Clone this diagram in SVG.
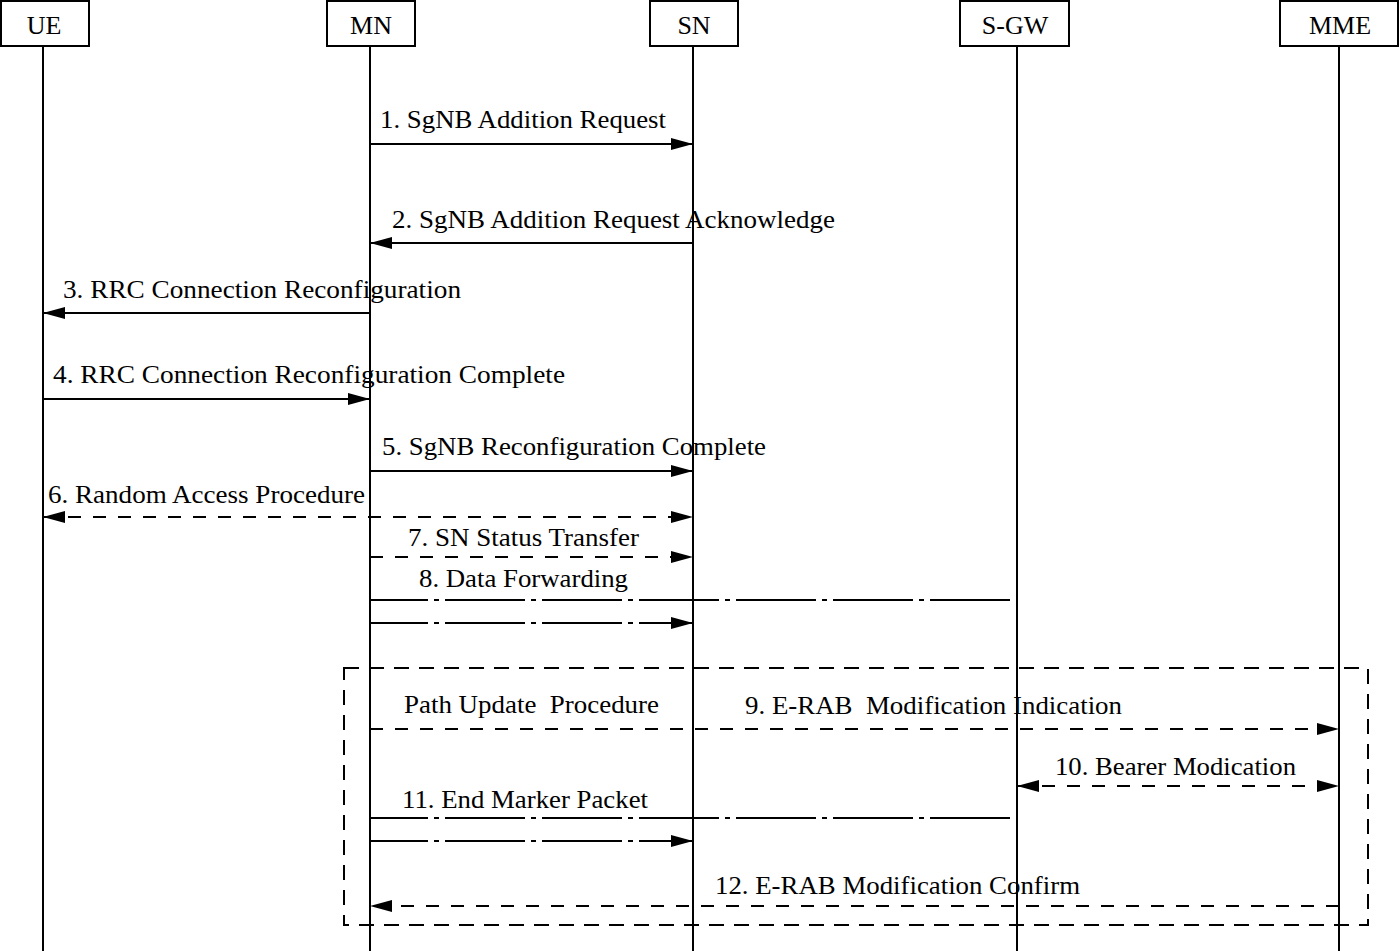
<svg xmlns="http://www.w3.org/2000/svg" width="1400" height="951" viewBox="0 0 1400 951">
<style>
.box{fill:#fff;stroke:#000;stroke-width:2}
.life{stroke:#000;stroke-width:2;fill:none}
.msg{stroke:#000;stroke-width:2;fill:none}
.dash{stroke-dasharray:13 12}
.dd{stroke-dasharray:80 6 5 6}
.frame{fill:none;stroke:#000;stroke-width:2;stroke-dasharray:15 10}
text{font-family:"Liberation Serif","Times New Roman",serif;font-size:26px;fill:#000}
.hdr{text-anchor:middle}
</style>
<defs>
<marker id="ah" markerUnits="userSpaceOnUse" markerWidth="22" markerHeight="12" refX="22" refY="6" orient="auto-start-reverse" viewBox="0 0 22 12">
<path d="M0,0 L22,6 L0,12 z" fill="#000"/>
</marker>
</defs>
<g id="lifelines">
<line class="life" x1="43" y1="46" x2="43" y2="951"/>
<line class="life" x1="370" y1="46" x2="370" y2="951"/>
<line class="life" x1="693" y1="46" x2="693" y2="951"/>
<line class="life" x1="1017" y1="46" x2="1017" y2="951"/>
<line class="life" x1="1339" y1="46" x2="1339" y2="951"/>
</g>
<g id="node-UE"><rect class="box" x="1" y="1" width="88" height="45"/><text class="hdr" x="44" y="34">UE</text></g>
<g id="node-MN"><rect class="box" x="327" y="1" width="88" height="45"/><text class="hdr" x="371" y="34">MN</text></g>
<g id="node-SN"><rect class="box" x="650" y="1" width="88" height="45"/><text class="hdr" x="694" y="34">SN</text></g>
<g id="node-SGW"><rect class="box" x="960" y="1" width="109" height="45"/><text class="hdr" x="1015" y="34">S-GW</text></g>
<g id="node-MME"><rect class="box" x="1280" y="1" width="118" height="45"/><text class="hdr" x="1340" y="34">MME</text></g>
<g id="frame"><rect class="frame" x="344" y="668" width="1024" height="257"/></g>
<g id="connectors">
<line class="msg" x1="370" y1="144" x2="693" y2="144" marker-end="url(#ah)"/>
<line class="msg" x1="693" y1="243" x2="370" y2="243" marker-end="url(#ah)"/>
<line class="msg" x1="370" y1="313" x2="43" y2="313" marker-end="url(#ah)"/>
<line class="msg" x1="43" y1="399" x2="370" y2="399" marker-end="url(#ah)"/>
<line class="msg" x1="370" y1="471" x2="693" y2="471" marker-end="url(#ah)"/>
<line class="msg dash" x1="43" y1="517" x2="693" y2="517" marker-start="url(#ah)" marker-end="url(#ah)"/>
<line class="msg dash" x1="370" y1="557" x2="693" y2="557" marker-end="url(#ah)"/>
<line class="msg dd" x1="370" y1="600" x2="1017" y2="600" style="stroke-dashoffset:22"/>
<line class="msg dd" x1="370" y1="623" x2="693" y2="623" style="stroke-dashoffset:22" marker-end="url(#ah)"/>
<line class="msg dash" x1="370" y1="729" x2="1339" y2="729" marker-end="url(#ah)"/>
<line class="msg dash" x1="1017" y1="786" x2="1339" y2="786" marker-start="url(#ah)" marker-end="url(#ah)"/>
<line class="msg dd" x1="370" y1="818" x2="1017" y2="818" style="stroke-dashoffset:22"/>
<line class="msg dd" x1="370" y1="841" x2="693" y2="841" style="stroke-dashoffset:22" marker-end="url(#ah)"/>
<line class="msg dash" x1="1339" y1="906" x2="370" y2="906" marker-end="url(#ah)"/>
</g>
<g id="labels">
<text x="380" y="128" textLength="286" lengthAdjust="spacingAndGlyphs">1. SgNB Addition Request</text>
<text x="392" y="228" textLength="443" lengthAdjust="spacingAndGlyphs">2. SgNB Addition Request Acknowledge</text>
<text x="63" y="298" textLength="398" lengthAdjust="spacingAndGlyphs">3. RRC Connection Reconfiguration</text>
<text x="53" y="383" textLength="512" lengthAdjust="spacingAndGlyphs">4. RRC Connection Reconfiguration Complete</text>
<text x="382" y="455" textLength="384" lengthAdjust="spacingAndGlyphs">5. SgNB Reconfiguration Complete</text>
<text x="48" y="503" textLength="317" lengthAdjust="spacingAndGlyphs">6. Random Access Procedure</text>
<text x="408" y="546" textLength="231" lengthAdjust="spacingAndGlyphs">7. SN Status Transfer</text>
<text x="419" y="587" textLength="209" lengthAdjust="spacingAndGlyphs">8. Data Forwarding</text>
<text x="404" y="713" textLength="255" lengthAdjust="spacingAndGlyphs" xml:space="preserve">Path Update  Procedure</text>
<text x="745" y="714" textLength="377" lengthAdjust="spacingAndGlyphs" xml:space="preserve">9. E-RAB  Modification Indication</text>
<text x="1055" y="775" textLength="241" lengthAdjust="spacingAndGlyphs">10. Bearer Modication</text>
<text x="402" y="808" textLength="246" lengthAdjust="spacingAndGlyphs">11. End Marker Packet</text>
<text x="715" y="894" textLength="365" lengthAdjust="spacingAndGlyphs">12. E-RAB Modification Confirm</text>
</g>
</svg>
